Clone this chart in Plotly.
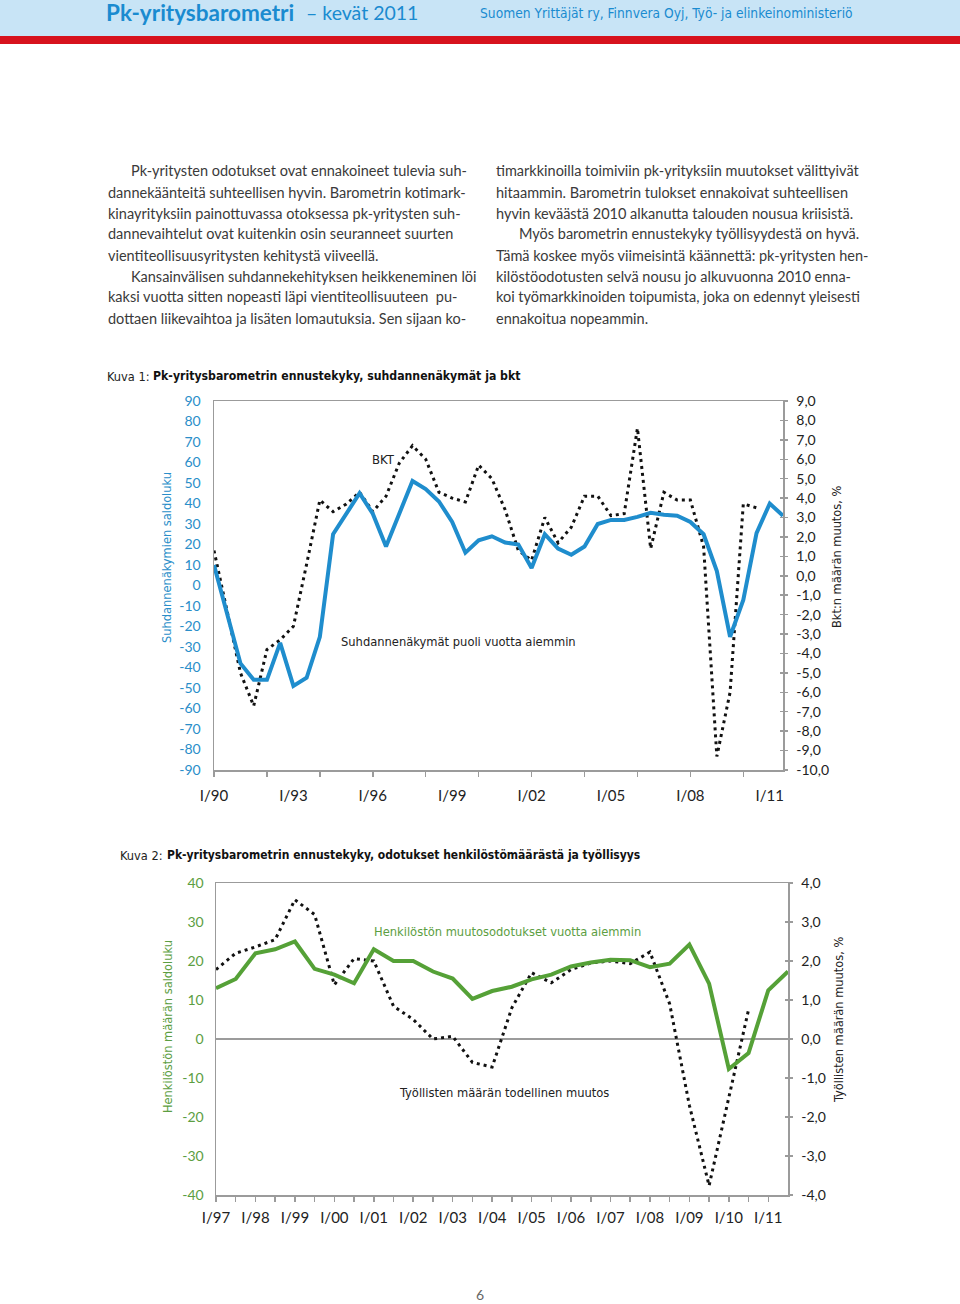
import plotly.graph_objects as go

W, H = 960, 1304
def X(p): return p / W
def Y(p): return 1 - p / H

# ---------------- DATA ----------------
# Kuva 1: half-year periods
periods_outlook = [1990.0, 1990.5, 1991.0, 1991.5, 1992.0, 1992.5, 1993.0, 1993.5, 1994.0, 1994.5,
                   1995.0, 1995.5, 1996.0, 1996.5, 1997.0, 1997.5, 1998.0, 1998.5, 1999.0, 1999.5,
                   2000.0, 2000.5, 2001.0, 2001.5, 2002.0, 2002.5, 2003.0, 2003.5, 2004.0, 2004.5,
                   2005.0, 2005.5, 2006.0, 2006.5, 2007.0, 2007.5, 2008.0, 2008.5, 2009.0, 2009.5,
                   2010.0, 2010.5, 2011.0, 2011.5]
outlook = [10, -14, -38, -46, -46, -28, -49, -45, -25, 25,
           35, 45, 35, 19, 35, 51, 47, 41, 31, 16,
           22, 24, 21, 20, 8.5, 25, 18, 15, 19, 30,
           32, 32, 33.5, 35.5, 34.5, 34, 31, 25, 7, -25,
           -7, 25.5, 40, 34]

periods_bkt = [1990.0, 1990.5, 1991.0, 1991.5, 1992.0, 1992.5, 1993.0, 1993.5, 1994.0, 1994.5,
               1995.0, 1995.5, 1996.0, 1996.5, 1997.0, 1997.5, 1998.0, 1998.5, 1999.0, 1999.5,
               2000.0, 2000.5, 2001.0, 2001.5, 2002.0, 2002.5, 2003.0, 2003.5, 2004.0, 2004.5,
               2005.0, 2005.5, 2006.0, 2006.5, 2007.0, 2007.5, 2008.0, 2008.5, 2009.0, 2009.5,
               2010.0, 2010.5]
bkt = [1.3, -1.8, -5.0, -6.7, -3.8, -3.3, -2.6, 0.6, 3.9, 3.3,
       3.7, 4.3, 3.3, 4.1, 5.8, 6.7, 6.0, 4.3, 4.0, 3.8,
       5.7, 5.0, 3.4, 1.3, 0.8, 3.0, 1.7, 2.5, 4.1, 4.1,
       3.1, 3.2, 7.6, 1.4, 4.3, 3.9, 3.9, 1.5, -9.3, -6.0,
       3.7, 3.5]

# Kuva 2
periods_staff = [1997.0, 1997.5, 1998.0, 1998.5, 1999.0, 1999.5, 2000.0, 2000.5, 2001.0, 2001.5,
                 2002.0, 2002.5, 2003.0, 2003.5, 2004.0, 2004.5, 2005.0, 2005.5, 2006.0, 2006.5,
                 2007.0, 2007.5, 2008.0, 2008.5, 2009.0, 2009.5, 2010.0, 2010.5, 2011.0, 2011.5]
staff = [13, 15.4, 22, 23, 25, 18, 16.5, 14.3, 23, 20,
         20, 17.3, 15.5, 10.3, 12.3, 13.4, 15.3, 16.5, 18.6, 19.6,
         20.3, 20.2, 18.4, 19.3, 24.2, 14.2, -7.7, -3.6, 12.5, 17.3]

periods_emp = [1997.0, 1997.5, 1998.0, 1998.5, 1999.0, 1999.5, 2000.0, 2000.5, 2001.0, 2001.5,
               2002.0, 2002.5, 2003.0, 2003.5, 2004.0, 2004.5, 2005.0, 2005.5, 2006.0, 2006.5,
               2007.0, 2007.5, 2008.0, 2008.5, 2009.0, 2009.5, 2010.0, 2010.5]
employment = [1.78, 2.2, 2.36, 2.55, 3.57, 3.19, 1.39, 2.06, 2.0, 0.84,
              0.5, 0.0, 0.07, -0.6, -0.72, 0.8, 1.7, 1.44, 1.78, 1.95,
              2.0, 1.93, 2.23, 0.9, -1.7, -3.76, -1.5, 0.75]

# tick labels
k1_label_vals = [1990, 1993, 1996, 1999, 2002, 2005, 2008, 2011]
k1_label_text = ["I/90", "I/93", "I/96", "I/99", "I/02", "I/05", "I/08", "I/11"]
k1_tick_vals = [1990, 1992, 1994, 1996, 1998, 2000, 2002, 2004, 2006, 2008, 2010]
k1_left_vals = [-90, -80, -70, -60, -50, -40, -30, -20, -10, 0, 10, 20, 30, 40, 50, 60, 70, 80, 90]
k1_right_vals = [-10, -9, -8, -7, -6, -5, -4, -3, -2, -1, 0, 1, 2, 3, 4, 5, 6, 7, 8, 9]

k2_tick_vals = [1997.0, 1997.5, 1998.0, 1998.5, 1999.0, 1999.5, 2000.0, 2000.5, 2001.0, 2001.5,
                2002.0, 2002.5, 2003.0, 2003.5, 2004.0, 2004.5, 2005.0, 2005.5, 2006.0, 2006.5,
                2007.0, 2007.5, 2008.0, 2008.5, 2009.0, 2009.5, 2010.0, 2010.5, 2011.0]
k2_tick_text = ["I/97", "", "I/98", "", "I/99", "", "I/00", "", "I/01", "",
                "I/02", "", "I/03", "", "I/04", "", "I/05", "", "I/06", "",
                "I/07", "", "I/08", "", "I/09", "", "I/10", "", "I/11"]
k2_left_vals = [-40, -30, -20, -10, 0, 10, 20, 30, 40]
k2_right_vals = [-4, -3, -2, -1, 0, 1, 2, 3, 4]

# ---------------- STYLE ----------------
BLUE = "#1f8dcd"
BLUE_TXT = "#2a8ec9"
GREEN = "#55a137"
GREEN_TXT = "#5c9e42"
GRAY = "#9b9b9b"
TXT = "#3a3a3a"
TICKF = "Lato"
NARROW = "DejaVu Sans Condensed, DejaVu Sans"

def comma(v):
    return f"{v:.1f}".replace(".", ",")

DOT = dict(color="#111111", width=3, dash="3px,4px")

fig = go.Figure()
fig.add_trace(go.Scatter(x=periods_bkt, y=bkt, xaxis="x", yaxis="y", mode="lines",
                         line=DOT, hoverinfo="skip"))
fig.add_trace(go.Scatter(x=periods_outlook, y=outlook, xaxis="x", yaxis="y2", mode="lines",
                         line=dict(color=BLUE, width=4), hoverinfo="skip"))
fig.add_trace(go.Scatter(x=periods_emp, y=employment, xaxis="x2", yaxis="y3", mode="lines",
                         line=DOT, hoverinfo="skip"))
fig.add_trace(go.Scatter(x=periods_staff, y=staff, xaxis="x2", yaxis="y4", mode="lines",
                         line=dict(color=GREEN, width=4), hoverinfo="skip"))
# invisible (mode='none') traces so that the helper overlay axes get drawn
fig.add_trace(go.Scatter(x=periods_outlook, y=outlook, xaxis="x3", yaxis="y2", mode="none",
                         hoverinfo="skip"))
fig.add_trace(go.Scatter(x=periods_bkt, y=bkt, xaxis="x", yaxis="y5", mode="none",
                         hoverinfo="skip"))
fig.add_trace(go.Scatter(x=periods_emp, y=employment, xaxis="x2", yaxis="y6", mode="none",
                         hoverinfo="skip"))

c1x = [X(214), X(783)]
c1y = [Y(770), Y(401)]
c2x = [X(216), X(788)]
c2y = [Y(1195), Y(883)]

ax_common = dict(showgrid=False, zeroline=False, fixedrange=True, automargin=False)

layout = dict(
    template="none",
    width=W, height=H, margin=dict(l=0, r=0, t=0, b=0, pad=0, autoexpand=False),
    paper_bgcolor="white", plot_bgcolor="rgba(0,0,0,0)", showlegend=False,
    # ---- Kuva 1 ----
    xaxis=dict(domain=c1x, anchor="y", range=[1990, 2011.5], tickmode="array",
               tickvals=k1_tick_vals, ticks="outside", ticklen=5, tickwidth=1.5, tickcolor=GRAY,
               showticklabels=False, showline=True, linecolor=GRAY, linewidth=1.5, mirror=True,
               **ax_common),
    xaxis3=dict(overlaying="x", anchor="y", side="bottom", range=[1990, 2011.5], tickmode="array",
                tickvals=k1_label_vals, ticktext=k1_label_text, ticks="", showline=False,
                ticklabelstandoff=15, tickfont=dict(family=TICKF, size=15, color="#222"),
                **ax_common),
    yaxis=dict(domain=c1y, anchor="x", side="right", range=[-10, 9], tickmode="array",
               tickvals=k1_right_vals, ticktext=[comma(v) for v in k1_right_vals],
               ticks="outside", ticklen=3, tickwidth=1.5, tickcolor=GRAY,
               showline=True, linecolor=GRAY, linewidth=1.5, ticklabelstandoff=6,
               tickfont=dict(family=TICKF, size=14, color="#222"), **ax_common),
    yaxis5=dict(overlaying="y", anchor="x", side="right", range=[-10, 9], tickmode="array",
                tickvals=k1_right_vals, ticks="inside", ticklen=3, tickwidth=1.5, tickcolor=GRAY,
                showticklabels=False, showline=False, **ax_common),
    yaxis2=dict(overlaying="y", anchor="x", side="left", range=[-90, 90], tickmode="array",
                tickvals=k1_left_vals, ticktext=[str(v) for v in k1_left_vals], ticks="",
                showline=True, linecolor=GRAY, linewidth=1.5, ticklabelstandoff=9,
                tickfont=dict(family=TICKF, size=14, color=BLUE_TXT), **ax_common),
    # ---- Kuva 2 ----
    xaxis2=dict(domain=c2x, anchor="y3", range=[1997, 2011.5], tickmode="array",
                tickvals=k2_tick_vals, ticktext=k2_tick_text,
                ticks="outside", ticklen=5, tickwidth=1.5, tickcolor=GRAY,
                showline=True, linecolor=GRAY, linewidth=1.5, mirror=True, ticklabelstandoff=3,
                tickfont=dict(family=TICKF, size=15, color="#222"), **ax_common),
    yaxis3=dict(domain=c2y, anchor="x2", side="right", range=[-4, 4], tickmode="array",
                tickvals=k2_right_vals, ticktext=[comma(v) for v in k2_right_vals],
                ticks="outside", ticklen=3, tickwidth=1.5, tickcolor=GRAY,
                showline=True, linecolor=GRAY, linewidth=1.5, ticklabelstandoff=6,
                tickfont=dict(family=TICKF, size=14, color="#222"), showgrid=False,
                zeroline=True, zerolinecolor=GRAY, zerolinewidth=1.5, fixedrange=True,
                automargin=False),
    yaxis6=dict(overlaying="y3", anchor="x2", side="right", range=[-4, 4], tickmode="array",
                tickvals=k2_right_vals, ticks="inside", ticklen=3, tickwidth=1.5, tickcolor=GRAY,
                showticklabels=False, showline=False, **ax_common),
    yaxis4=dict(overlaying="y3", anchor="x2", side="left", range=[-40, 40], tickmode="array",
                tickvals=k2_left_vals, ticktext=[str(v) for v in k2_left_vals], ticks="",
                showline=True, linecolor=GRAY, linewidth=1.5, ticklabelstandoff=8,
                tickfont=dict(family=TICKF, size=14, color=GREEN_TXT), **ax_common),
)
fig.update_layout(**layout)

shapes = [
    dict(type="rect", xref="paper", yref="paper", x0=0, x1=1, y0=Y(36), y1=1,
         fillcolor="#c8e4f6", line=dict(width=0), layer="below"),
    dict(type="rect", xref="paper", yref="paper", x0=0, x1=1, y0=Y(44), y1=Y(36),
         fillcolor="#d7121d", line=dict(width=0), layer="below"),
]
fig.update_layout(shapes=shapes)

ann = []
def A(text, x, y, size=14, color=TXT, family=TICKF, xanchor="left", angle=0, **kw):
    ann.append(dict(text=text, x=X(x), y=Y(y), xref="paper", yref="paper", showarrow=False,
                    xanchor=xanchor, yanchor="middle", textangle=angle,
                    font=dict(family=family, size=size, color=color), **kw))

def N(text, x, y, size=14, color=TXT, **kw):
    A(text, x, y, size=size, color=color, family=NARROW, **kw)

# header
A("<b>Pk-yritysbarometri</b>", 104, 13, size=22.5, color="#1a8bd0", family="Lato")
A("– kevät 2011", 304, 13, size=19.5, color="#1a8bd0", family="Lato")
N("Suomen Yrittäjät ry, Finnvera Oyj, Työ- ja elinkeinoministeriö", 855, 13, size=13.7,
  color="#1a8bd0", xanchor="right")

# body text
left_lines = [
    (129, "Pk-yritysten odotukset ovat ennakoineet tulevia suh-"),
    (106, "dannekäänteitä suhteellisen hyvin. Barometrin kotimark-"),
    (106, "kinayrityksiin painottuvassa otoksessa pk-yritysten suh-"),
    (106, "dannevaihtelut ovat kuitenkin osin seuranneet suurten"),
    (106, "vientiteollisuusyritysten kehitystä viiveellä."),
    (129, "Kansainvälisen suhdannekehityksen heikkeneminen löi"),
    (106, "kaksi vuotta sitten nopeasti läpi vientiteollisuuteen  pu-"),
    (106, "dottaen liikevaihtoa ja lisäten lomautuksia. Sen sijaan ko-"),
]
right_lines = [
    (494, "timarkkinoilla toimiviin pk-yrityksiin muutokset välittyivät"),
    (494, "hitaammin. Barometrin tulokset ennakoivat suhteellisen"),
    (494, "hyvin keväästä 2010 alkanutta talouden nousua kriisistä."),
    (517, "Myös barometrin ennustekyky työllisyydestä on hyvä."),
    (494, "Tämä koskee myös viimeisintä käännettä: pk-yritysten hen-"),
    (494, "kilöstöodotusten selvä nousu jo alkuvuonna 2010 enna-"),
    (494, "koi työmarkkinoiden toipumista, joka on edennyt yleisesti"),
    (494, "ennakoitua nopeammin."),
]
for i, (x, t) in enumerate(left_lines):
    A(t, x, 171 + 21 * i, size=14.5, color=TXT)
for i, (x, t) in enumerate(right_lines):
    A(t, x, 171 + 21 * i, size=14.5, color=TXT)

# Kuva 1
N("Kuva 1:", 105, 376, size=12.7, color="#222")
N("<b>Pk-yritysbarometrin ennustekyky, suhdannenäkymät ja bkt</b>", 151, 376, size=12.2,
  color="#111")
N("BKT", 383, 459, size=13, color="#222", xanchor="center")
N("Suhdannenäkymät puoli vuotta aiemmin", 339, 642, size=12.8, color="#222")
N("Suhdannenäkymien saldoluku", 166, 558, size=12.7, color=BLUE_TXT, xanchor="center", angle=-90)
N("Bkt:n määrän muutos, %", 837, 557, size=12.7, color="#222", xanchor="center", angle=-90)

# Kuva 2
N("Kuva 2:", 118, 855, size=12.7, color="#222")
N("<b>Pk-yritysbarometrin ennustekyky, odotukset henkilöstömäärästä ja työllisyys</b>", 165, 855,
  size=12, color="#111")
N("Henkilöstön muutosodotukset vuotta aiemmin", 372, 931, size=12.8, color=GREEN_TXT)
N("Työllisten määrän todellinen muutos", 397, 1092, size=12.8, color="#222")
N("Henkilöstön määrän saldoluku", 167, 1027, size=12.7, color=GREEN_TXT, xanchor="center", angle=-90)
N("Työllisten määrän muutos, %", 838, 1020, size=12.7, color="#222", xanchor="center", angle=-90)

A("6", 480, 1294, size=14, color="#666", xanchor="center")

fig.update_layout(annotations=ann)
fig.write_html("out.html", config={"displayModeBar": False, "staticPlot": True},
               post_script="document.body.style.margin='0';document.body.style.overflow='hidden';")
